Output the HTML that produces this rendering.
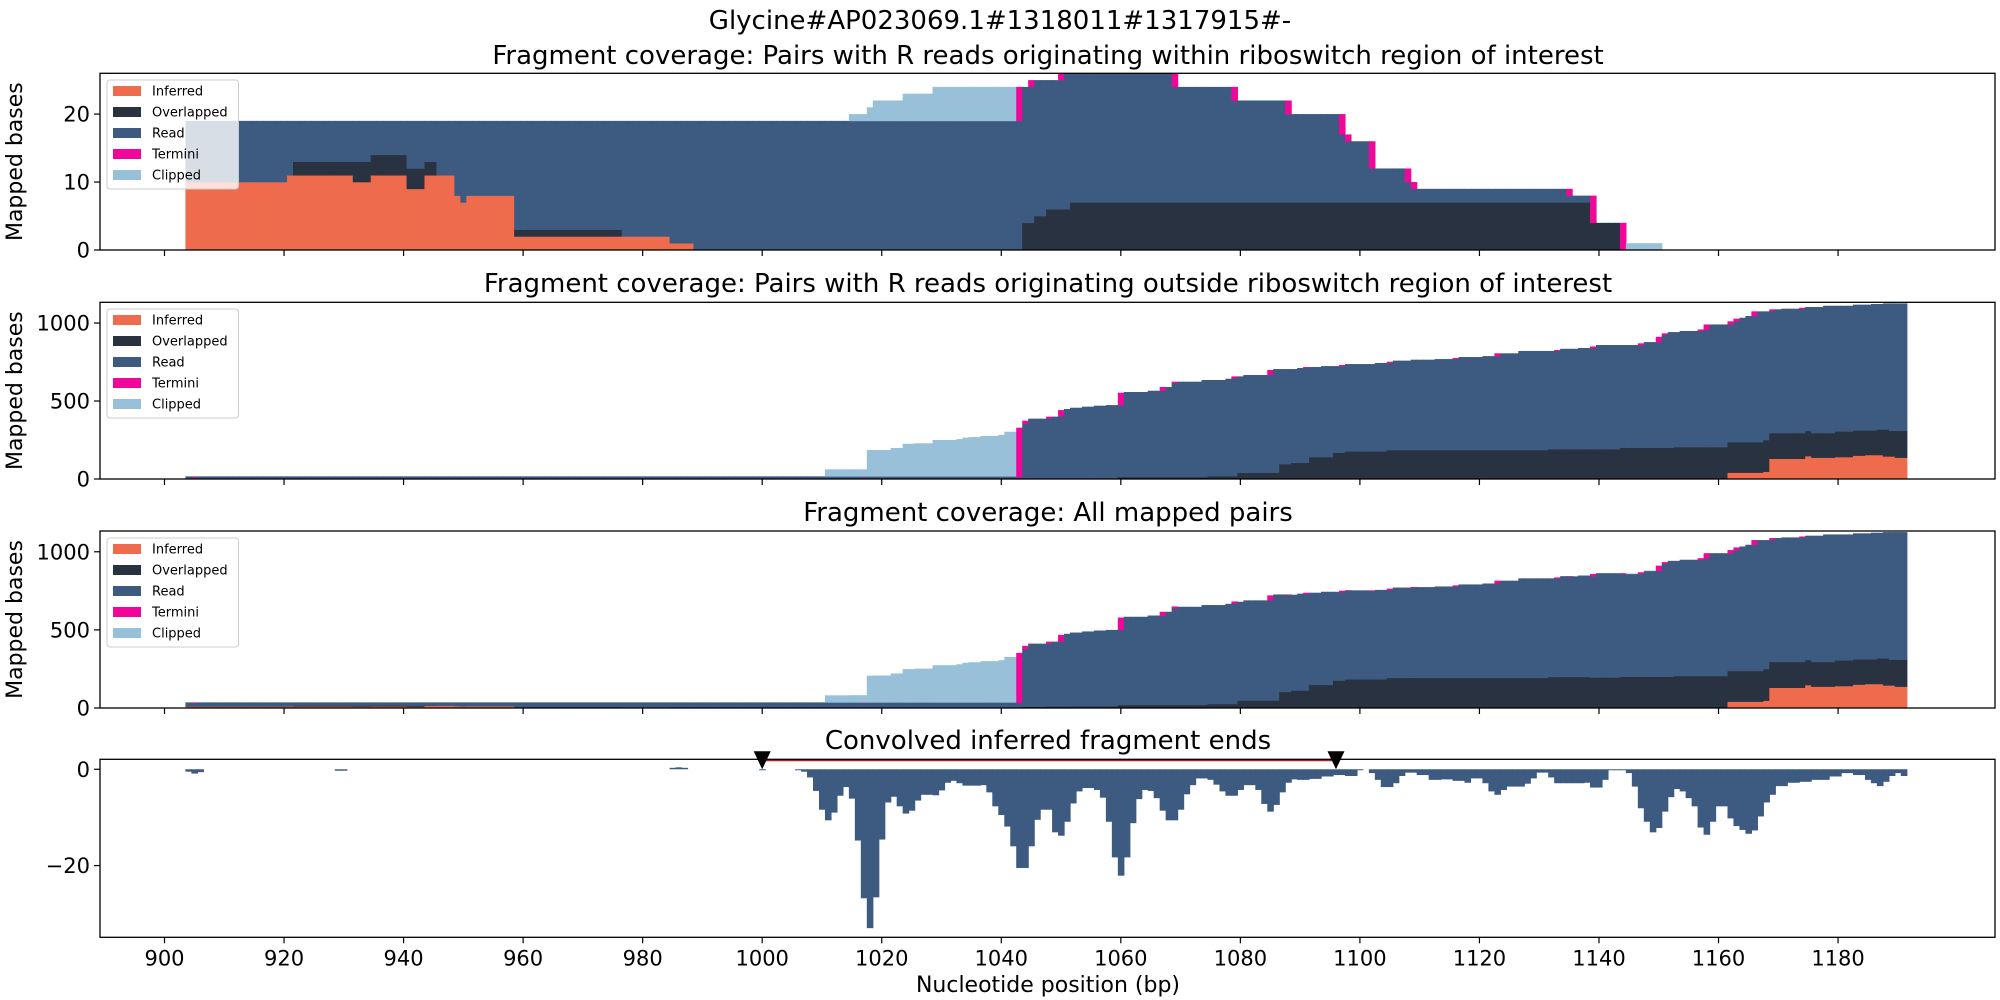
<!DOCTYPE html>
<html><head><meta charset="utf-8">
<style>
html,body{margin:0;padding:0;background:#fff;}
svg{display:block;font-family:"DejaVu Sans","Liberation Sans",sans-serif;}
</style></head>
<body>
<svg id="fig" xmlns="http://www.w3.org/2000/svg" width="2000" height="1000" viewBox="0 0 2000 1000">
<rect x="0" y="0" width="2000" height="1000" fill="#fff"/>
<text x="1000" y="29" font-size="26" text-anchor="middle">Glycine#AP023069.1#1318011#1317915#-</text>
<text x="1048" y="64" font-size="26" text-anchor="middle">Fragment coverage: Pairs with R reads originating within riboswitch region of interest</text>
<text x="1048" y="292" font-size="26" text-anchor="middle">Fragment coverage: Pairs with R reads originating outside riboswitch region of interest</text>
<text x="1048" y="521" font-size="26" text-anchor="middle">Fragment coverage: All mapped pairs</text>
<text x="1048" y="749" font-size="26" text-anchor="middle">Convolved inferred fragment ends</text>
<text x="1048" y="992" font-size="22" text-anchor="middle">Nucleotide position (bp)</text>
<g id="plots"></g>
</svg>
<script>
// ---------------- data ----------------
const xTicks = [900,920,940,960,980,1000,1020,1040,1060,1080,1100,1120,1140,1160,1180];
const layerNames = ["Inferred","Overlapped","Read","Termini","Clipped"];
const layerColors = ["#ee6c4d","#293241","#3d5a80","#f00699","#98c1d9"];

// Panel 1 (within riboswitch): run-length arrays (start bp, value)
const p1TopStart = [904,1043,1045,1050,1070,1080,1089,1098,1099,1103,1109,1110,1136,1140,1145];
const p1TopVal   = [19, 24,  25,  26,  24,  22,  20,  17,  16,  12,  10,  9,   8,   4,   0];
const p1InfStart = [904,921,932,935,941,944,949,950,951,959,985,989];
const p1InfVal   = [10, 11, 10, 11, 9,  11, 8,  7,  8,  2,  1,  0];
const p1OvlStart = [904,922,932,935,941,944,946,959,977,1044,1046,1048,1052,1139,1144];
const p1OvlVal   = [0,  2,  3,  3,  3,  2,  0,  1,  0,  4,   5,   6,   7,   4,   0];
const p1ClipStart = [904,1015,1018,1019,1024,1029,1043,1145,1151];
const p1ClipVal   = [0,  1,   2,   3,   4,   5,   0,   1,   0];
const p1TermPos = [1043,1045,1050,1069,1079,1088,1097,1098,1102,1108,1109,1135,1139,1144];
const p1TermVal = [5,   1,   1,   2,   2,   2,   3,   1,   4,   2,   1,   1,   4,   4];

// Panel 2 (outside riboswitch)
const p2TopStart = [904,1043,1044,1045,1048,1050,1051,1052,1054,1056,1058,1060,1061,1065,1067,1069,1074,1078,1079,1081,1085,1086,1090,1091,1094,1097,1098,1103,1105,1106,1109,1113,1116,1117,1121,1123,1127,1133,1134,1137,1139,1140,1147,1148,1150,1151,1152,1154,1157,1158,1162,1163,1164,1165,1166,1169,1171,1174,1175,1178,1183,1186,1188,1192];
const p2TopVal   = [17, 329, 374, 387, 400, 442, 449, 457, 464, 470, 474, 553, 558, 566, 590, 624, 635, 643, 658, 667, 699, 705, 712, 718, 724, 731, 737, 744, 752, 759, 765, 769, 776, 782, 788, 806, 821, 827, 835, 840, 850, 859, 870, 878, 912, 934, 942, 949, 959, 991, 1011,1028,1034,1045,1075,1088,1092,1098,1103,1111,1118,1122,1126,0];
const p2InfStart = [904,944,1162,1168,1169,1175,1176,1180,1183,1185,1188,1190,1192];
const p2InfVal   = [0,  4,  41,  47,  130, 147, 137, 141, 150, 154, 145, 137, 0];
const p2OvlStart = [904,922,944,1060,1075,1080,1087,1089,1092,1096,1098,1105,1132,1144,1153,1162,1168,1169,1175,1176,1180,1183,1185,1187,1188,1189,1190,1192];
const p2OvlVal   = [0,  3,  0,  9,   15,  37,  92,  101, 137, 165, 173, 182, 188, 197, 201, 196, 203, 165, 161, 158, 164, 162, 158, 164, 173, 165, 173, 0];
const p2ClipStart = [904,1011,1018,1022,1024,1026,1029,1033,1034,1035,1037,1040,1041,1043];
const p2ClipVal   = [0,  45,  169, 182, 209, 212, 233, 239, 248, 252, 259, 265, 286, 0];
const p2TermPos = [905,1017,1043,1044,1048,1050,1060,1067,1069,1079,1085,1091,1097,1105,1116,1123,1133,1139,1147,1150,1151,1157,1158,1162,1163,1166,1169,1174];
const p2TermVal = [3,  3,   316, 20,  10,  40,  79,  24,  10,  10,  32,  6,   7,   8,   7,   18,  6,   10,  11,  34,  10,  10,  32,  20,  17,  30,  10,  6];

// Panel 4 (convolved inferred ends)
const convSparsePos = [904,905,906,929,930,985,986,987,1000];
const convSparseVal = [-0.5,-0.9,-0.6,-0.3,-0.3,0.3,0.4,0.3,-0.2];
const convStart = 1006;
const convVal = [-0.1,-0.5,-1.7,-4.5,-8.4,-10.6,-9,-5.5,-3.7,-6.1,-14.8,-26.8,-33,-26.6,-14.6,-6.9,-5.7,-7.7,-9.2,-8.6,-6.5,-5.3,-5.3,-5.4,-4.4,-2.8,-2.4,-2.9,-3.4,-3.4,-3.4,-3.3,-4.8,-7.7,-9.5,-11.9,-16,-20.5,-20.5,-16,-10.5,-8.4,-8.4,-13.1,-13.8,-10.9,-7.1,-4.6,-3.9,-3.9,-4.3,-5.9,-10.9,-18.3,-22.1,-18.3,-11.2,-6.2,-4.3,-4.5,-6,-8.6,-10.6,-10.6,-8.4,-5.2,-3.3,-1.9,-1.9,-2.2,-3.2,-4.6,-5.5,-5.5,-4.3,-3.3,-3.3,-4.3,-7.2,-8.8,-7.4,-4.8,-2.8,-2.1,-2.2,-2.2,-2,-2,-1.5,-1.5,-1.2,-1.2,-1.4,-1.4,-0.1,0,-0.8,-2.2,-3.7,-3.7,-2.9,-1.4,-0.7,-0.7,-1.2,-1.2,-2.2,-2.2,-2.1,-2.1,-2.4,-2.4,-2.8,-1.9,-1.9,-2.9,-4.6,-5.3,-4.3,-3.6,-3.6,-3.6,-3,-1.9,-0.7,-0.7,-1.7,-2.9,-2.9,-2.9,-2.9,-2.9,-2.8,-3.8,-3.8,-2.2,-0.1,-0.1,-0.1,-0.8,-3.6,-8.1,-10.9,-13.1,-12.2,-8.8,-5.8,-4.1,-4.6,-6,-7.7,-12.1,-13.6,-10.9,-7.7,-7.7,-10.2,-11.8,-12.6,-13.4,-12.7,-9.8,-6.9,-5.3,-3.5,-3.5,-2.8,-2.8,-2.6,-2.6,-2.2,-2.2,-2.2,-1.5,-1.5,-0.8,-0.8,-1.2,-1.2,-2.2,-2.9,-3.5,-2.6,-1.4,-0.8,-1.4];
const markerPos = [1000, 1096];
const bpStart = 904, bpEnd = 1191;

// ---------------- layout ----------------
const NS = "http://www.w3.org/2000/svg";
const AX_L = 100, AX_R = 1995;
function xs(bp){ return 164.5 + (bp - 900) * 5.977; }
const panels = [
  {name:"panel1", top:73.3, bot:250, ymin:0, ymax:26, yticks:[0,10,20], legendTop:80},
  {name:"panel2", top:302.3, bot:479, ymin:0, ymax:1133, yticks:[0,500,1000], legendTop:309},
  {name:"panel3", top:531, bot:708, ymin:0, ymax:1133, yticks:[0,500,1000], legendTop:538},
  {name:"panel4", top:759.3, bot:937.3, ymin:-34.9, ymax:2.07, yticks:[-20,0]}
];
function ys(p, v){ return p.bot - (v - p.ymin) / (p.ymax - p.ymin) * (p.bot - p.top); }
function mk(tag, attrs, parent){
  const e = document.createElementNS(NS, tag);
  for (const k in attrs) e.setAttribute(k, attrs[k]);
  parent.appendChild(e); return e;
}
function step(starts, vals, bp){
  let v = 0;
  for (let i = 0; i < starts.length; i++){ if (starts[i] <= bp) v = vals[i]; else break; }
  return v;
}
function point(pos, vals, bp){ const i = pos.indexOf(bp); return i >= 0 ? vals[i] : 0; }

function layers1(bp){
  const inf = step(p1InfStart,p1InfVal,bp), ovl = step(p1OvlStart,p1OvlVal,bp);
  const top = step(p1TopStart,p1TopVal,bp), term = point(p1TermPos,p1TermVal,bp);
  const clip = step(p1ClipStart,p1ClipVal,bp);
  return [inf, ovl, Math.max(0, top-inf-ovl-term), term, clip];
}
function layers2(bp){
  const inf = step(p2InfStart,p2InfVal,bp), ovl = step(p2OvlStart,p2OvlVal,bp);
  const top = step(p2TopStart,p2TopVal,bp), term = point(p2TermPos,p2TermVal,bp);
  const clip = step(p2ClipStart,p2ClipVal,bp);
  return [inf, ovl, Math.max(0, top-inf-ovl-term), term, clip];
}
function layers3(bp){
  const a = layers1(bp), b = layers2(bp);
  return a.map((v,i)=>v+b[i]);
}
const layerFns = [layers1, layers2, layers3];

const root = document.getElementById("plots");
const defs = mk("defs", {}, root);

panels.forEach((p, pi) => {
  const g = mk("g", {}, root);
  
  
  const cp = mk("clipPath", {id:"clip"+pi}, defs);
  mk("rect", {x:AX_L, y:p.top, width:AX_R-AX_L, height:p.bot-p.top}, cp);
  const data = mk("g", {"clip-path":"url(#clip"+pi+")"}, g);
  
  

  if (pi < 3){
    const fn = layerFns[pi];
    for (let bp = bpStart; bp <= bpEnd; bp++){
      const L = fn(bp);
      let cum = 0;
      const x0 = xs(bp - 0.5), w = xs(bp + 0.5) - x0 + 0.6;
      for (let li = 0; li < 5; li++){
        const v = L[li];
        if (v > 0){
          const yTop = ys(p, cum + v), yBot = ys(p, cum);
          const r = mk("rect", {x:x0.toFixed(2), y:yTop.toFixed(2), width:w.toFixed(2), height:(yBot-yTop+0.3).toFixed(2), fill:layerColors[li]}, data);
          
          
        }
        cum += v;
      }
    }
  } else {
    const drawConv = (bp, v) => {
      if (v === 0) return;
      const x0 = xs(bp - 0.5), w = xs(bp + 0.5) - x0 + 0.6;
      const y0 = ys(p, 0), y1 = ys(p, v);
      const r = mk("rect", {x:x0.toFixed(2), y:Math.min(y0,y1).toFixed(2), width:w.toFixed(2), height:Math.max(1, Math.abs(y1-y0)).toFixed(2), fill:"#3d5a80"}, data);
      
      
    };
    convSparsePos.forEach((bp,i)=>drawConv(bp, convSparseVal[i]));
    convVal.forEach((v,i)=>drawConv(convStart + i, v));
    const ly = p.top + 1;
    const ln = mk("line", {x1:xs(markerPos[0]), x2:xs(markerPos[1]), y1:ly, y2:ly, stroke:"#b22222", "stroke-width":2}, g);
    
    
    markerPos.forEach(bp => {
      const cx = xs(bp);
      const t = mk("polygon", {points:`${cx-8.5},${p.top-8} ${cx+8.5},${p.top-8} ${cx},${p.top+10}`, fill:"#000"}, g);
      
      
    });
  }

  const fr = mk("rect", {x:AX_L, y:p.top, width:AX_R-AX_L, height:p.bot-p.top, fill:"none", stroke:"#000", "stroke-width":1.3}, g);
  
  

  xTicks.forEach(t => {
    const tx = xs(t);
    const tk = mk("line", {x1:tx, x2:tx, y1:p.bot, y2:p.bot+6, stroke:"#000", "stroke-width":1.2}, g);
    
    
    if (pi === 3){
      const tl = mk("text", {x:tx, y:p.bot+28, "font-size":21, "text-anchor":"middle"}, g);
      tl.textContent = String(t);
      
      
    }
  });
  p.yticks.forEach(t => {
    const ty = ys(p, t);
    const tk = mk("line", {x1:AX_L-6, x2:AX_L, y1:ty, y2:ty, stroke:"#000", "stroke-width":1.2}, g);
    
    
    const tl = mk("text", {x:AX_L-10, y:ty+7.5, "font-size":21, "text-anchor":"end"}, g);
    tl.textContent = t < 0 ? "\u2212" + Math.abs(t) : String(t);
    
    
  });
  if (pi < 3){
    const cy = (p.top + p.bot) / 2;
    const yl = mk("text", {x:0, y:0, "font-size":22, "text-anchor":"middle", transform:`translate(22,${cy}) rotate(-90)`}, g);
    yl.textContent = "Mapped bases";
    
    

    const lg = mk("g", {}, g);
    
    
    mk("rect", {x:107, y:p.legendTop, width:131.5, height:109, rx:3, fill:"#fff", "fill-opacity":0.8, stroke:"#ccc", "stroke-width":1}, lg);
    layerNames.forEach((n, i) => {
      const ry = p.legendTop + 11 + i * 21;
      const e = mk("g", {}, lg);
      
      
      mk("rect", {x:113, y:ry-5, width:28, height:10, fill:layerColors[i]}, e);
      const tx = mk("text", {x:152, y:ry+4.5, "font-size":13}, e);
      tx.textContent = n;
    });
  }
});
</script>
</body></html>
